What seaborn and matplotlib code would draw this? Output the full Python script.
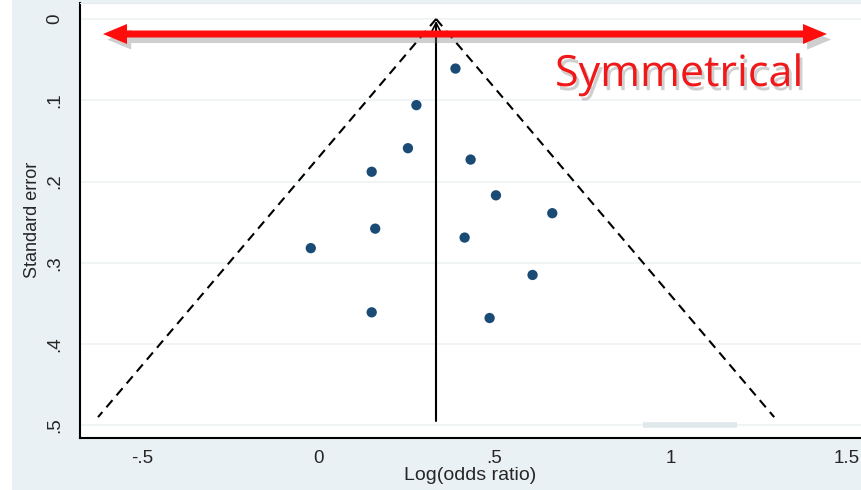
import numpy as np
import pandas as pd
import matplotlib
matplotlib.use("Agg")
import matplotlib.pyplot as plt
import matplotlib.patheffects as pe
from matplotlib.patches import Rectangle, Polygon
import seaborn as sns

# Study estimates
log_or = [0.389, 0.278, 0.254, 0.432, 0.151, 0.504, 0.664,
          0.161, 0.415, -0.022, 0.608, 0.151, 0.486]
std_err = [0.061, 0.106, 0.159, 0.173, 0.188, 0.217, 0.239,
           0.258, 0.269, 0.282, 0.315, 0.361, 0.368]

pooled = 0.334      # pooled log odds ratio (vertical line)
se_max = 0.49       # funnel limits drawn down to this SE
se_line = 0.495     # vertical line bottom

x_ticks = [-0.5, 0, 0.5, 1, 1.5]
x_labels = ["-.5", "0", ".5", "1", "1.5"]
y_ticks = [0, 0.1, 0.2, 0.3, 0.4, 0.5]
y_labels = ["0", ".1", ".2", ".3", ".4", ".5"]

df = pd.DataFrame({"log_or": log_or, "se": std_err})

# pseudo 95% confidence limits
funnel = pd.DataFrame({
    "x": [pooled, pooled - 1.96 * se_max, pooled, pooled + 1.96 * se_max],
    "se": [0, se_max, 0, se_max],
    "side": ["left", "left", "right", "right"],
})

sns.set_style("white")
plt.rcParams["font.family"] = ["Liberation Sans", "DejaVu Sans"]

bg = "#eaf1f4"
W, H = 861, 490
fig = plt.figure(figsize=(W / 100, H / 100), dpi=100, facecolor=bg)
fig.patches.append(Rectangle((0, 0), 12 / W, 1, transform=fig.transFigure,
                             facecolor="white", edgecolor="none", zorder=0))
ax_l, ax_t, ax_b = 80, 3, 437.7
ax = fig.add_axes([ax_l / W, (H - ax_b) / H, 1 - ax_l / W, (ax_b - ax_t) / H])
ax.set_facecolor("white")
aw, ah = W - ax_l, ax_b - ax_t

for y in y_ticks:
    ax.axhline(y, color="#eef2f4", lw=1.2, zorder=0)
ax.plot([0.922, 1.189], [0.4996, 0.4996], color="#dfe9ec", lw=4, zorder=0,
        solid_capstyle="butt")

sns.lineplot(data=funnel, x="x", y="se", units="side", estimator=None,
             color="black", lw=1.5, linestyle=(0, (4.5, 3)), sort=False, ax=ax)
ax.plot([pooled, pooled], [0.008, se_line], color="black", lw=1.5)
ax.annotate("", xy=(pooled, -0.001), xytext=(pooled, 0.03),
            arrowprops=dict(arrowstyle="->", color="black", lw=1.2,
                            mutation_scale=18))

sns.scatterplot(data=df, x="log_or", y="se", s=55, color="#1a4b75",
                edgecolor="none", ax=ax, zorder=3)

ax.set_xlim(-0.6776, 1.541)
ax.set_ylim(0.5153, -0.0197)
ax.set_xticks(x_ticks)
ax.set_xticklabels(x_labels, fontsize=13.5)
ax.set_yticks(y_ticks)
ax.set_yticklabels(y_labels, fontsize=13.5, rotation=90, va="center")
ax.tick_params(axis="x", direction="out", length=6, width=1.2,
               color="black", pad=3)
ax.tick_params(axis="y", direction="out", length=7, width=1.2,
               color="black", pad=5)
ax.spines["right"].set_visible(False)
ax.spines["top"].set_color("#e4eaed")
for s in ["left", "bottom"]:
    ax.spines[s].set_linewidth(1.5)
    ax.spines[s].set_color("black")

ax.set_xlabel("Log(odds ratio)", fontsize=14, labelpad=0)
ax.set_ylabel("Standard error", fontsize=13, labelpad=4)

# red double-headed arrow (axes fraction coords)
ay = 1 - (34 - ax_t) / ah
x0, x1 = (103 - ax_l) / aw, (827 - ax_l) / aw
hl, hw, sw = 24 / aw, 10 / ah, 3.5 / ah
arrow = Polygon([(x0, ay), (x0 + hl, ay + hw), (x0 + hl, ay + sw),
                 (x1 - hl, ay + sw), (x1 - hl, ay + hw), (x1, ay),
                 (x1 - hl, ay - hw), (x1 - hl, ay - sw), (x0 + hl, ay - sw),
                 (x0 + hl, ay - hw)], closed=True, transform=ax.transAxes,
                facecolor="#ff0d0d", edgecolor="none", zorder=5)
arrow.set_path_effects([pe.SimplePatchShadow(offset=(3, -4),
                                             shadow_rgbFace="#777777",
                                             alpha=0.35), pe.Normal()])
ax.add_patch(arrow)

txt = ax.text((555 - ax_l) / aw, (ax_b - 86) / ah, "Symmetrical",
              transform=ax.transAxes, color="#f01818", fontsize=31,
              family=["Open Sans", "DejaVu Sans"], ha="left", va="baseline",
              zorder=5)
txt.set_path_effects([pe.withSimplePatchShadow(offset=(2, -3),
                                               shadow_rgbFace="#777777",
                                               alpha=0.35)])

fig.savefig("out.png", dpi=100, facecolor=bg)
